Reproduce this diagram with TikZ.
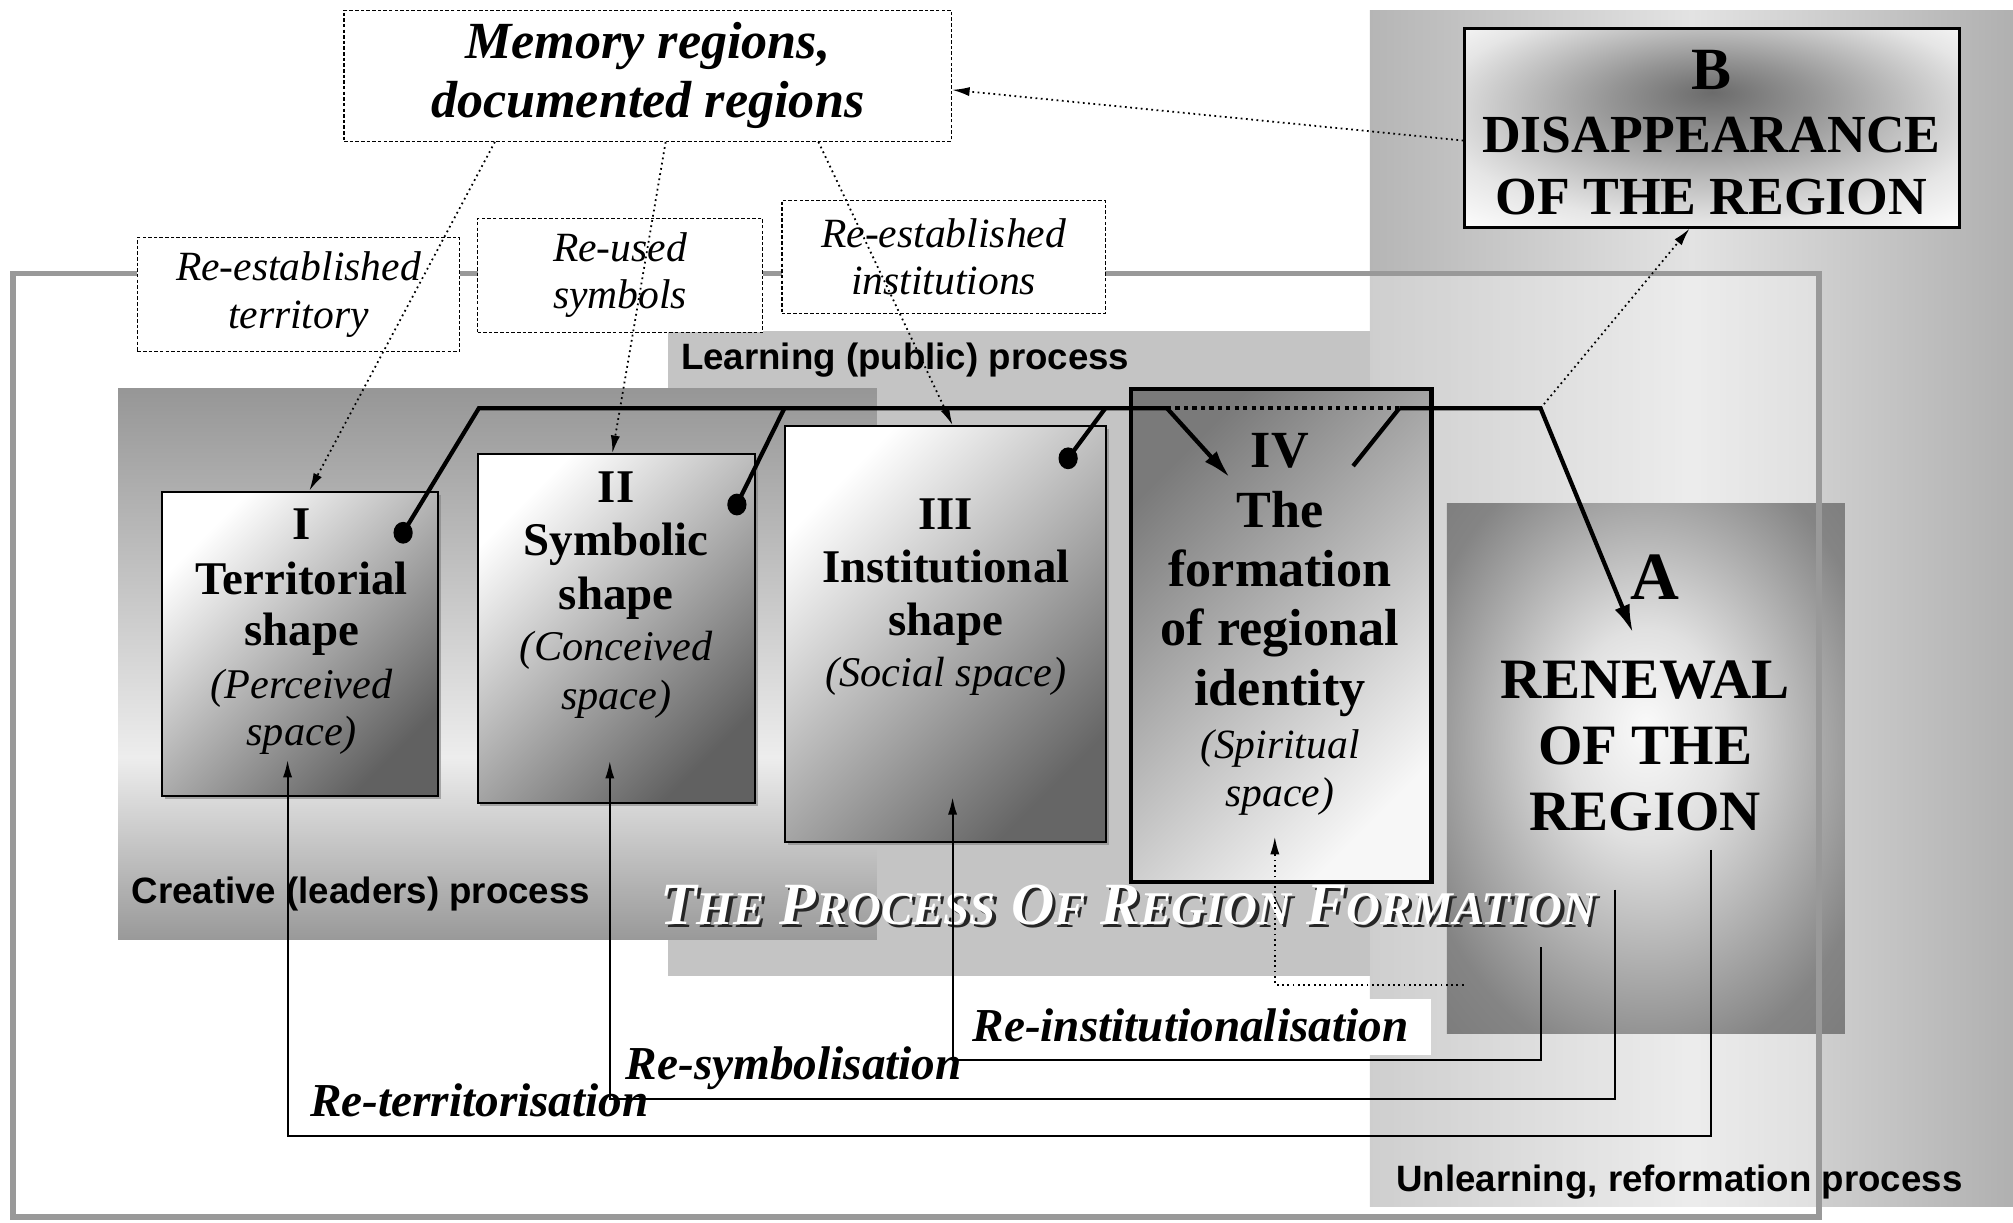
\documentclass[tikz,border=0pt]{standalone}
\usepackage{fontspec}
\setmainfont{Liberation Serif}
\setsansfont{Liberation Sans}
\usetikzlibrary{arrows.meta,calc,shadows}
\pgfdeclareradialshading{glowA}{\pgfpoint{0bp}{4bp}}{color(0bp)=(black!2);color(10bp)=(black!12);color(30bp)=(black!48);color(50bp)=(black!58)}
\pgfdeclareradialshading{glowB}{\pgfpoint{0bp}{9bp}}{color(0bp)=(black!58);color(10bp)=(black!42);color(28bp)=(black!10);color(38bp)=(white);color(50bp)=(white)}
\newcommand\px{0.0128cm}
\newcommand\spc{\mdseries\itshape\fontsize{12}{13.8}\selectfont}
\newcommand\smc[1]{{\fontsize{13.3}{14}\selectfont#1}}
\tikzset{
dashbox/.style={draw,fill=white,line width=0.4pt,dash pattern=on 1pt off 0.6pt,align=center,inner sep=0pt},
shapebox/.style={draw,line width=0.6pt,inner sep=0pt,drop shadow={shadow xshift=0.8pt,shadow yshift=-0.8pt,opacity=0.6}},
head/.style={font=\bfseries\fontsize{13.3}{15.6}\selectfont,align=center,inner sep=0pt,anchor=north},
proc/.style={font=\sffamily\bfseries\fontsize{10.4}{12}\selectfont,inner sep=0pt,anchor=base west},
reloop/.style={font=\bfseries\itshape\fontsize{13.4}{15}\selectfont,inner sep=0pt,anchor=base west},
ttl/.style={font=\bfseries\itshape\fontsize{17}{20}\selectfont,inner sep=0pt,anchor=base},
bus/.style={line width=1.2pt},
loopline/.style={line width=0.6pt},
memarrow/.style={densely dotted,line width=0.5pt,-{Latex[length=5pt,width=2.6pt]}}
}
\begin{document}
\begin{tikzpicture}[x=0.0128cm,y=-0.0128cm]
\useasboundingbox(0,0)rectangle(1568,952);
\shade[left color=black!29,right color=black!31,middle color=black!11](1067,8)rectangle(1568,940);
\fill[white,opacity=0.35](10,213)rectangle(1417,948);
\fill[black!23](520,258)rectangle(1067,760);
\shade[top color=black!41,bottom color=black!7](92,303)rectangle(683,590);
\shade[top color=black!7,bottom color=black!40](92,590)rectangle(683,732);
\node[shade,shading=glowA,inner sep=0pt,minimum width=310*\px,minimum height=413*\px](boxA)at(1282,598.5){};
\draw[black!40,line width=1.6pt](10,213)rectangle(1417,948);
\fill[white](745,778)rectangle(1115,822);
\node[dashbox,font=\bfseries\itshape\fontsize{14.8}{16.7}\selectfont,minimum width=473*\px,minimum height=102*\px](mem)at(504.5,59){Memory regions,\\documented regions};
\node[dashbox,font=\itshape\fontsize{11.8}{13.4}\selectfont,minimum width=251*\px,minimum height=89*\px](reT)at(232.5,229.5){Re-established\\territory};
\node[dashbox,font=\itshape\fontsize{11.8}{13.4}\selectfont,minimum width=222*\px,minimum height=89*\px](reS)at(483,214.5){Re-used\\symbols};
\node[dashbox,font=\itshape\fontsize{11.8}{13.4}\selectfont,minimum width=252*\px,minimum height=88*\px](reI)at(735,200){Re-established\\institutions};
\node[draw,line width=0.8pt,shade,shading=glowB,inner sep=0pt,minimum width=385*\px,minimum height=155*\px,drop shadow={shadow xshift=0.6pt,shadow yshift=-0.6pt,opacity=0.5}](boxB)at(1333.5,99.5){};
\node[shapebox,top color=white,bottom color=black!62,shading angle=45,minimum width=215*\px,minimum height=237*\px](boxI)at(233.5,501.5){};
\node[shapebox,top color=white,bottom color=black!62,shading angle=45,minimum width=216*\px,minimum height=272*\px](boxII)at(480,489.8){};
\node[shapebox,top color=white,bottom color=black!60,shading angle=45,minimum width=250*\px,minimum height=324*\px](boxIII)at(736.7,494){};
\node[draw,line width=1.3pt,inner sep=0pt,top color=black!52,bottom color=black!3,shading angle=45,minimum width=234*\px,minimum height=384*\px](boxIV)at(998,495){};
\node[head](tI)at(235,396){I\\Territorial\\[-1.1pt]shape\\[-0.7pt]{\spc(Perceived}\\[-2.2pt]{\spc space)}};
\node[head](tII)at(480,366.7){II\\[-0.4pt]Symbolic\\[-0.4pt]shape\\[-1.1pt]{\spc(Conceived}\\[-1.8pt]{\spc space)}};
\node[head](tIII)at(736.7,387.7){III\\[-0.4pt]Institutional\\[-0.7pt]shape\\[-1.1pt]{\spc(Social space)}};
\node[head,font=\bfseries\fontsize{14.8}{17}\selectfont](tIV)at(997,337){IV\\The\\[-0.3pt]formation\\[-0.1pt]of regional\\[-0.1pt]identity\\[-1.8pt]{\spc\fontsize{11.8}{13}\selectfont(Spiritual}\\[-3.6pt]{\spc\fontsize{11.8}{13}\selectfont space)}};
\node[font=\bfseries\fontsize{19.2}{22}\selectfont,inner sep=0pt,anchor=base](lblA)at(1288.7,467){A};
\node[font=\bfseries\fontsize{16.2}{18.7}\selectfont,align=center,inner sep=0pt,anchor=north](lblRen)at(1281.5,514){RENEWAL\\OF THE\\REGION};
\node[font=\bfseries\fontsize{15.2}{17.6}\selectfont,align=center,inner sep=0pt,anchor=north](lblB)at(1333,39){{\fontsize{17}{18}\selectfont B}\\DISAPPEARANCE\\OF THE REGION};
\node[proc](learn)at(530,288){Learning (public) process};
\node[proc](creat)at(102,704){Creative (leaders) process};
\node[proc](unlearn)at(1087,928){Unlearning, reformation process};
\node[ttl,text=black!85](titleS)at(881.5,722.5){T\smc{HE} P\smc{ROCESS} O\smc{F} R\smc{EGION} F\smc{ORMATION}};
\node[ttl,text=white](title)at(879,720){T\smc{HE} P\smc{ROCESS} O\smc{F} R\smc{EGION} F\smc{ORMATION}};
\coordinate(dI)at(314,415);\coordinate(dII)at(574,393);\coordinate(dIII)at(832,357);
\coordinate(k1)at(373,318);\coordinate(k2)at(611,318);\coordinate(k3)at(861,318);
\coordinate(k4)at(909,318);\coordinate(k5)at(1090,318);\coordinate(k6)at(1200,318);
\coordinate(hitIV)at(958,372);\coordinate(endIV)at(1054,363);\coordinate(hitA)at(1272,493);
\draw[bus,-{Latex[length=8pt,width=4.5pt]}](dI)--(k1)--(k4)(k5)--(k6)--(hitA);
\draw[bus](dII)--(k2)(dIII)--(k3)(k5)--(endIV);
\draw[bus,-{Latex[length=8pt,width=4.5pt]}](k4)--(hitIV);
\draw[line width=1.2pt,dash pattern=on 1.2pt off 1.2pt](k4)--(k5);
\foreach \d in{dI,dII,dIII}\fill(\d)circle[x radius=7.5,y radius=8.5];
\draw[memarrow]($(mem.south)+(-119,0)$)--($(boxI.north)+(7.5,0)$);
\draw[memarrow]($(mem.south)+(14,0)$)--($(boxII.north)+(-3,0)$);
\draw[memarrow]($(mem.south)+(133,0)$)--($(boxIII.north)+(5.3,0)$);
\draw[memarrow]($(boxB.west)+(0,10)$)--($(mem.east)+(0,11)$);
\draw[memarrow](k6)--($(boxB.south)+(-17.5,0)$);
\coordinate(rT)at(1333,662);\coordinate(rS)at(1258,693);\coordinate(rI)at(1200,738);\coordinate(rD)at(1140,767);
\draw[loopline,-{Latex[length=5pt,width=2.6pt]}](rT)--++(0,223)-|($(boxI.south)+(-9.5,-29)$);
\draw[loopline,-{Latex[length=5pt,width=2.6pt]}](rS)--++(0,163)-|($(boxII.south)+(-5,-34)$);
\draw[loopline,-{Latex[length=5pt,width=2.6pt]}](rI)--++(0,88)-|($(boxIII.south)+(5.3,-36)$);
\draw[memarrow](rD)-|($(boxIV.south)+(-5,-37)$);
\node[reloop](lT)at(241,870){Re-territorisation};
\node[reloop](lS)at(487,841){Re-symbolisation};
\node[reloop](lI)at(757,811){Re-institutionalisation};
\end{tikzpicture}
\end{document}
